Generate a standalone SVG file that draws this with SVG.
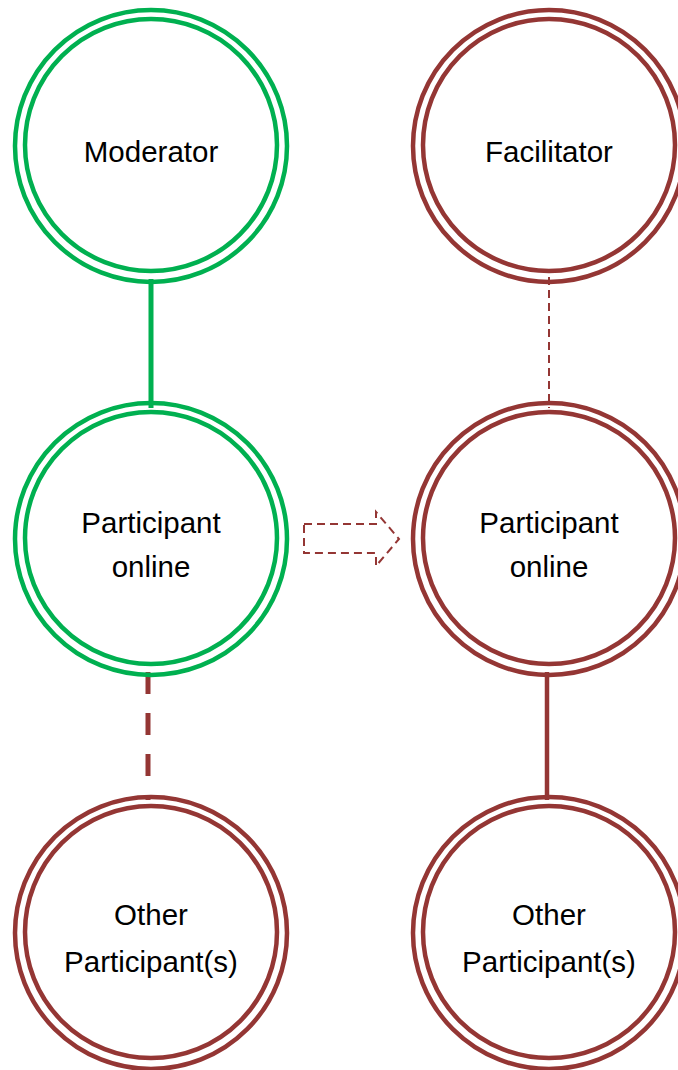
<svg xmlns="http://www.w3.org/2000/svg" width="678" height="1070" viewBox="0 0 678 1070">
  <style>
    .ring { fill: none; stroke-width: 4.5; }
    .green { stroke: #00B050; }
    .red { stroke: #943634; }
    .label { font-family: "Liberation Sans", Arial, sans-serif; font-size: 29.5px; fill: #000; text-anchor: middle; }
  </style>
  <rect width="678" height="1070" fill="#fff"/>

  <!-- connectors -->
  <g id="connectors">
    <line x1="151" y1="279" x2="151" y2="408" stroke="#00B050" stroke-width="5"/>
    <line x1="148" y1="672" x2="148" y2="800" stroke="#943634" stroke-width="5" stroke-dasharray="22 19"/>
    <line x1="549" y1="277" x2="549" y2="408" stroke="#943634" stroke-width="2" stroke-dasharray="8 5"/>
    <line x1="547" y1="672" x2="547" y2="800" stroke="#943634" stroke-width="4.5"/>
    <path d="M304,524 H376 V512 L399,539 L376,566 V553 H304 Z" fill="none" stroke="#943634" stroke-width="2" stroke-dasharray="8 5"/>
  </g>

  <g id="moderator">
    <circle class="ring green" cx="151" cy="146" r="136"/>
    <circle class="ring green" cx="151" cy="145" r="126"/>
    <text class="label" x="151" y="162">Moderator</text>
  </g>

  <g id="participant-online-left">
    <circle class="ring green" cx="151" cy="539" r="136"/>
    <circle class="ring green" cx="151" cy="538" r="126"/>
    <text class="label" x="151" y="533">Participant</text>
    <text class="label" x="151" y="577">online</text>
  </g>

  <g id="other-participants-left">
    <circle class="ring red" cx="151" cy="933" r="136"/>
    <circle class="ring red" cx="151" cy="932" r="126"/>
    <text class="label" x="151" y="925">Other</text>
    <text class="label" x="151" y="972">Participant(s)</text>
  </g>

  <g id="facilitator">
    <circle class="ring red" cx="549" cy="146" r="136"/>
    <circle class="ring red" cx="549" cy="145" r="126"/>
    <text class="label" x="549" y="162">Facilitator</text>
  </g>

  <g id="participant-online-right">
    <circle class="ring red" cx="549" cy="539" r="136"/>
    <circle class="ring red" cx="549" cy="538" r="126"/>
    <text class="label" x="549" y="533">Participant</text>
    <text class="label" x="549" y="577">online</text>
  </g>

  <g id="other-participants-right">
    <circle class="ring red" cx="549" cy="933" r="136"/>
    <circle class="ring red" cx="549" cy="932" r="126"/>
    <text class="label" x="549" y="925">Other</text>
    <text class="label" x="549" y="972">Participant(s)</text>
  </g>
</svg>
